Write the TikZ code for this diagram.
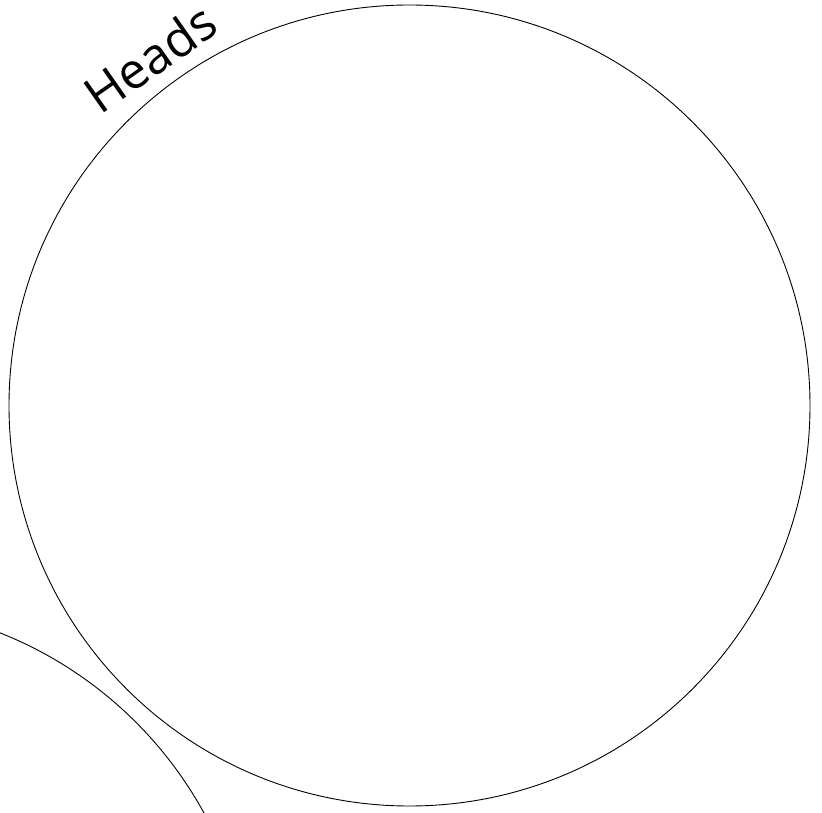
\documentclass[tikz,border=0pt]{standalone}
\usepackage{fontspec}
\setmainfont{Open Sans}
\begin{document}
\begin{tikzpicture}[x=1pt,y=1pt,
  coin/.style={draw=black,line width=0.9pt,circle,minimum size=801pt,inner sep=0pt},
  lbl/.style={font=\fontsize{50}{54}\selectfont,inner sep=0pt}]
\useasboundingbox (0,0) rectangle (822,812);
\node[coin] (heads) at (409.5,406.5) {};
\node[coin,minimum size=800pt] (other) at (-147,-193) {};
\node[lbl,rotate=35] (headslbl) at (150,754) {Heads};
\end{tikzpicture}
\end{document}
